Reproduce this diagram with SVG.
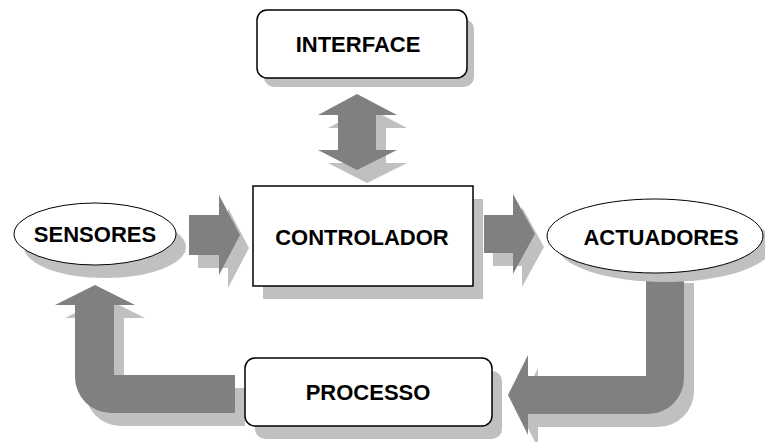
<svg xmlns="http://www.w3.org/2000/svg" width="765" height="442" viewBox="0 0 765 442">
<style>
.arr{fill:#808080}
.sh{fill:#c0c0c0}
.box{fill:#fff;stroke:#000;stroke-width:1.5}
.ell{fill:#fff;stroke:#000;stroke-width:1}
.t{font-family:"Liberation Sans",Arial,sans-serif;font-weight:bold;font-size:22px;fill:#000;text-anchor:middle}
</style>
<rect width="765" height="442" fill="#fff"/>
<g id="connectors">
  <!-- interface <-> controlador -->
  <path class="sh" transform="translate(10,13)" d="M357,94 L397,115 L376,115 L376,150 L397,150 L357,170 L318,150 L338,150 L338,115 L318,115 Z"/>
  <path class="arr" d="M357,94 L397,115 L376,115 L376,150 L397,150 L357,170 L318,150 L338,150 L338,115 L318,115 Z"/>
  <!-- sensores -> controlador -->
  <path class="sh" transform="translate(9,13)" d="M189,215 L219,215 L219,195 L240,235 L219,275 L219,255 L189,255 Z"/>
  <path class="arr" d="M189,215 L219,215 L219,195 L240,235 L219,275 L219,255 L189,255 Z"/>
  <!-- controlador -> actuadores -->
  <path class="sh" transform="translate(9,13)" d="M484,215 L513,215 L513,194 L535,234 L513,274 L513,253 L484,253 Z"/>
  <path class="arr" d="M484,215 L513,215 L513,194 L535,234 L513,274 L513,253 L484,253 Z"/>
  <!-- actuadores -> processo -->
  <path class="sh" transform="translate(10,13)" d="M508,395 L528,355 L528,376 L646,376 L646,270 L684,270 L684,378 A36,36 0 0 1 648,414 L528,414 L528,435 Z"/>
  <path class="arr" d="M508,395 L528,355 L528,376 L646,376 L646,270 L684,270 L684,378 A36,36 0 0 1 648,414 L528,414 L528,435 Z"/>
  <!-- processo -> sensores -->
  <path class="sh" transform="translate(10,13)" d="M95,285 L135,305 L114,305 L114,375 L235,375 L235,413 L111,413 A36,36 0 0 1 75,377 L75,305 L55,305 Z"/>
  <path class="arr" d="M95,285 L135,305 L114,305 L114,375 L235,375 L235,413 L111,413 A36,36 0 0 1 75,377 L75,305 L55,305 Z"/>
</g>
<g id="interface">
  <rect class="sh" x="264" y="19" width="210" height="68" rx="10"/>
  <rect class="box" x="257" y="10" width="210" height="68" rx="10"/>
  <text class="t" x="358" y="52">INTERFACE</text>
</g>
<g id="controlador">
  <rect class="sh" x="263" y="199" width="220" height="100"/>
  <rect class="box" x="253" y="186" width="220" height="100"/>
  <text class="t" x="362" y="245">CONTROLADOR</text>
</g>
<g id="sensores">
  <ellipse class="sh" cx="105" cy="247" rx="81" ry="31"/>
  <ellipse class="ell" cx="95" cy="234" rx="81" ry="31"/>
  <text class="t" x="95" y="242">SENSORES</text>
</g>
<g id="actuadores">
  <ellipse class="sh" cx="665" cy="245" rx="108" ry="37"/>
  <ellipse class="ell" cx="655" cy="236" rx="108" ry="37"/>
  <text class="t" x="661" y="245">ACTUADORES</text>
</g>
<g id="processo">
  <rect class="sh" x="255" y="371" width="247" height="68" rx="10"/>
  <rect class="box" x="245" y="358" width="247" height="68" rx="10"/>
  <text class="t" x="368" y="400">PROCESSO</text>
</g>
</svg>
